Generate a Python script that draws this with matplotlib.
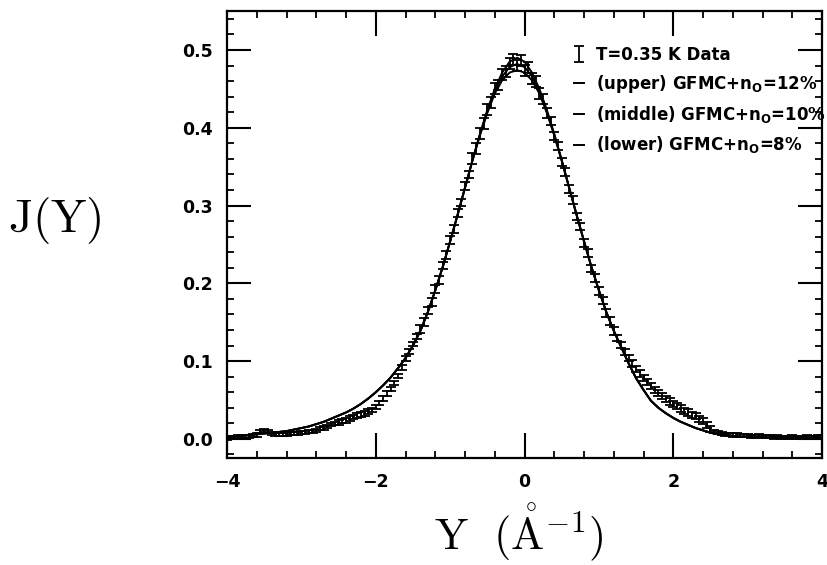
import matplotlib
matplotlib.use('Agg')
import matplotlib.pyplot as plt
from matplotlib.ticker import MultipleLocator, FormatStrFormatter
from matplotlib.font_manager import FontProperties
import numpy as np

# measured J(Y), T=0.35 K, every 0.05 in Y
y_data = np.round(np.linspace(-4.0, 4.0, 161), 2)
j_data = [0.001, 0.002, 0.002, 0.003, 0.003, 0.003, 0.003, 0.004, 0.005, 0.009,
          0.011, 0.010, 0.007, 0.006, 0.006, 0.006, 0.006, 0.007, 0.007, 0.007,
          0.008, 0.008, 0.009, 0.010, 0.011, 0.013, 0.014, 0.016, 0.018, 0.020,
          0.021, 0.023, 0.024, 0.026, 0.028, 0.030, 0.031, 0.033, 0.035, 0.037,
          0.041, 0.046, 0.052, 0.058, 0.064, 0.072, 0.081, 0.092, 0.103, 0.112,
          0.122, 0.132,
          0.141, 0.150, 0.165, 0.176, 0.193, 0.204, 0.223, 0.236, 0.256, 0.270,
          0.290, 0.304, 0.325, 0.340, 0.360, 0.373, 0.393, 0.405, 0.424, 0.433,
          0.450, 0.455, 0.469, 0.472, 0.483, 0.488, 0.480, 0.486, 0.474, 0.478,
          0.463, 0.459, 0.444, 0.437, 0.419, 0.409, 0.389, 0.377, 0.356, 0.343,
          0.321, 0.307, 0.286, 0.273, 0.252, 0.239, 0.219, 0.207, 0.190, 0.178,
          0.162, 0.152, 0.139,
          0.130, 0.121, 0.112, 0.104, 0.097, 0.090, 0.084, 0.078, 0.073, 0.068,
          0.063, 0.059, 0.055, 0.051, 0.048, 0.045, 0.042, 0.039, 0.036, 0.034,
          0.031, 0.029, 0.026, 0.023, 0.018, 0.013, 0.010, 0.008, 0.007, 0.006,
          0.006, 0.005, 0.005, 0.004, 0.004, 0.004, 0.003, 0.003, 0.004, 0.003,
          0.003, 0.003, 0.002, 0.003, 0.002, 0.002, 0.002, 0.003, 0.002, 0.002,
          0.002, 0.003, 0.002, 0.002, 0.003, 0.003]
j_err = ([0.002] * 30 + [0.003] * 22 + [0.005] * 14 + [0.007] * 21
         + [0.005] * 18 + [0.004] * 26 + [0.002] * 30)

# GFMC curves, every 0.1 in Y
y_fit = np.round(np.linspace(-4.0, 4.0, 81), 1)
j_middle = [0.003, 0.003, 0.004, 0.005, 0.006, 0.007, 0.008, 0.009, 0.010, 0.012,
            0.014, 0.016, 0.019, 0.022, 0.026, 0.030, 0.034, 0.039, 0.045, 0.052,
            0.060, 0.069, 0.079, 0.091, 0.104, 0.120, 0.139, 0.163, 0.191, 0.221,
            0.254, 0.288, 0.323, 0.358, 0.391, 0.421, 0.447, 0.466, 0.478, 0.482,
            0.478, 0.466, 0.447, 0.421, 0.391, 0.358, 0.323, 0.288, 0.254, 0.221,
            0.191, 0.163, 0.139, 0.118, 0.097, 0.078, 0.063, 0.049, 0.040, 0.033,
            0.027, 0.022, 0.018, 0.014, 0.011, 0.008, 0.006, 0.005, 0.004, 0.003,
            0.003, 0.002, 0.002, 0.002, 0.002, 0.002, 0.002, 0.002, 0.002, 0.002,
            0.002]
j_upper = [0.003, 0.003, 0.004, 0.005, 0.006, 0.007, 0.008, 0.009, 0.010, 0.012,
           0.014, 0.016, 0.019, 0.022, 0.026, 0.030, 0.034, 0.039, 0.045, 0.052,
           0.060, 0.069, 0.079, 0.091, 0.104, 0.120, 0.139, 0.163, 0.191, 0.221,
           0.254, 0.288, 0.323, 0.358, 0.392, 0.423, 0.450, 0.471, 0.485, 0.490,
           0.485, 0.471, 0.450, 0.423, 0.392, 0.358, 0.323, 0.288, 0.254, 0.221,
           0.191, 0.163, 0.139, 0.118, 0.097, 0.078, 0.063, 0.049, 0.040, 0.033,
           0.027, 0.022, 0.018, 0.014, 0.011, 0.008, 0.006, 0.005, 0.004, 0.003,
           0.003, 0.002, 0.002, 0.002, 0.002, 0.002, 0.002, 0.002, 0.002, 0.002,
           0.002]
j_lower = [0.003, 0.003, 0.004, 0.005, 0.006, 0.007, 0.008, 0.009, 0.010, 0.012,
           0.014, 0.016, 0.019, 0.022, 0.026, 0.030, 0.034, 0.039, 0.045, 0.052,
           0.060, 0.069, 0.079, 0.091, 0.104, 0.120, 0.139, 0.163, 0.191, 0.221,
           0.254, 0.288, 0.323, 0.358, 0.390, 0.419, 0.444, 0.461, 0.471, 0.474,
           0.471, 0.461, 0.444, 0.419, 0.390, 0.358, 0.323, 0.288, 0.254, 0.221,
           0.191, 0.163, 0.139, 0.118, 0.097, 0.078, 0.063, 0.049, 0.040, 0.033,
           0.027, 0.022, 0.018, 0.014, 0.011, 0.008, 0.006, 0.005, 0.004, 0.003,
           0.003, 0.002, 0.002, 0.002, 0.002, 0.002, 0.002, 0.002, 0.002, 0.002,
           0.002]

data_label = 'T=0.35 K Data'
fit_labels = [r'(upper) GFMC+n$_\mathbf{O}$=12%',
              r'(middle) GFMC+n$_\mathbf{O}$=10%',
              r'(lower) GFMC+n$_\mathbf{O}$=8%']

plt.rcParams['mathtext.fontset'] = 'cm'

fig = plt.figure(figsize=(8.27, 5.65), dpi=100)
ax = fig.add_axes([0.2745, 0.1894, 0.7195, 0.791])

fits = []
for jj, lab in zip([j_upper, j_middle, j_lower], fit_labels):
    ln, = ax.plot(y_fit, jj, color='k', lw=1.4, label=lab)
    fits.append(ln)

eb = ax.errorbar(y_data, j_data, yerr=j_err, fmt='none', ecolor='k',
                 elinewidth=1.3, capsize=3.5, capthick=1.3, label=data_label)

ax.set_xlim(-4, 4)
ax.set_ylim(-0.0245, 0.55)
ax.xaxis.set_major_locator(MultipleLocator(2))
ax.xaxis.set_minor_locator(MultipleLocator(0.4))
ax.yaxis.set_major_locator(MultipleLocator(0.1))
ax.yaxis.set_minor_locator(MultipleLocator(0.02))
ax.yaxis.set_major_formatter(FormatStrFormatter('%.1f'))

ax.tick_params(which='both', direction='in', top=True, right=True, colors='k')
ax.tick_params(axis='x', which='major', length=18, width=1.5, pad=11)
ax.tick_params(axis='y', which='major', length=17, width=1.5, pad=10)
ax.tick_params(which='minor', length=5, width=1.3)
for lab in ax.get_xticklabels() + ax.get_yticklabels():
    lab.set_fontsize(12.5)
    lab.set_fontweight('bold')
for sp in ax.spines.values():
    sp.set_linewidth(1.6)

# axis titles in a TeX-like serif
fig.text(8 / 827, 1 - 232 / 565, r'$\mathrm{J(Y)}$', fontsize=34,
         ha='left', va='baseline')
fig.text(519 / 827, 1 - 549 / 565, r'$\mathrm{Y}\ \ (\mathring{\mathrm{A}}^{-1})$',
         fontsize=32, ha='center', va='baseline')

prop = FontProperties(family='DejaVu Sans', weight='bold', size=12,
                      math_fontfamily='dejavusans')
ax.legend(handles=[eb] + fits, loc='upper left', bbox_to_anchor=(0.583, 0.922),
          frameon=False, prop=prop, handlelength=0.6, handletextpad=0.7,
          labelspacing=0.55, borderpad=0, borderaxespad=0)

fig.savefig('out.png', dpi=100)
